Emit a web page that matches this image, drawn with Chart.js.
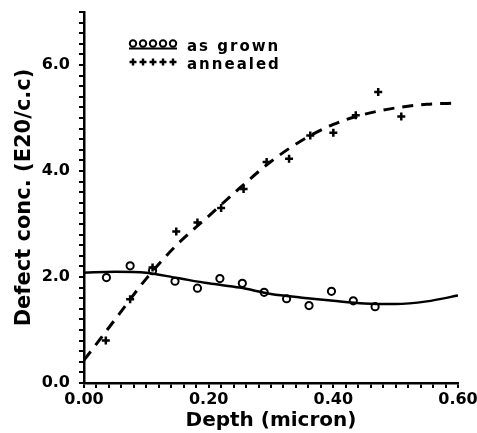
<!DOCTYPE html>
<html><head><meta charset="utf-8">
<script src="https://cdn.jsdelivr.net/npm/chart.js@4.4.1/dist/chart.umd.min.js"></script>
<style>html,body{margin:0;padding:0;background:#fff}canvas{display:block}</style>
</head><body>
<canvas id="c" width="477" height="433"></canvas>
<script>
// ---- data ----
const grownX = [0.036, 0.074, 0.110, 0.146, 0.182, 0.218, 0.254, 0.289, 0.325, 0.361, 0.397, 0.432, 0.467];
const grownY = [1.99, 2.21, 2.12, 1.92, 1.79, 1.97, 1.88, 1.71, 1.59, 1.46, 1.73, 1.55, 1.44];
const annealX = [0.035, 0.074, 0.110, 0.148, 0.182, 0.220, 0.256, 0.293, 0.329, 0.363, 0.400, 0.436, 0.472, 0.509];
const annealY = [0.80, 1.58, 2.18, 2.86, 3.03, 3.30, 3.66, 4.17, 4.23, 4.67, 4.72, 5.05, 5.49, 5.03];
const fitX = [0, 0.05, 0.10, 0.15, 0.20, 0.25, 0.30, 0.35, 0.40, 0.45, 0.50, 0.55, 0.60];
const grownFitY = [2.08, 2.10, 2.08, 1.98, 1.88, 1.80, 1.68, 1.61, 1.55, 1.50, 1.49, 1.54, 1.65];
const annealFitY = [0.43, 1.20, 1.97, 2.62, 3.15, 3.68, 4.18, 4.58, 4.88, 5.07, 5.19, 5.26, 5.28];
const seriesLabels = ['as grown', 'annealed'];
const xTitle = 'Depth (micron)';
const yTitle = 'Defect conc. (E20/c.c)';

const pts = (xs, ys) => xs.map((x, i) => ({x: x, y: ys[i]}));

Chart.defaults.font.family = '"DejaVu Sans", sans-serif';
Chart.defaults.font.weight = 'bold';
Chart.defaults.color = '#000';

const legendPlugin = {
  id: 'inlineLegend',
  afterDraw(chart) {
    const ctx = chart.ctx;
    ctx.save();
    ctx.strokeStyle = '#000';
    ctx.fillStyle = '#000';
    ctx.lineWidth = 2;
    for (let i = 0; i < 5; i++) {
      ctx.beginPath();
      ctx.arc(133 + i * 10, 43.5, 3.2, 0, Math.PI * 2);
      ctx.stroke();
    }
    ctx.lineWidth = 2;
    ctx.beginPath();
    ctx.moveTo(129, 48.5); ctx.lineTo(177, 48.5);
    ctx.stroke();
    ctx.lineWidth = 2.4;
    for (let i = 0; i < 5; i++) {
      const cx = 133 + i * 10;
      ctx.beginPath();
      ctx.moveTo(cx - 3.5, 62); ctx.lineTo(cx + 3.5, 62);
      ctx.moveTo(cx, 58.5); ctx.lineTo(cx, 65.5);
      ctx.stroke();
    }
    ctx.font = 'bold 15px "DejaVu Sans"';
    try { ctx.letterSpacing = '2px'; } catch (e) {}
    ctx.textAlign = 'left';
    ctx.textBaseline = 'alphabetic';
    ctx.fillText(chart.data.datasets[2].label, 187, 51);
    ctx.fillText(chart.data.datasets[3].label, 187, 69);
    ctx.restore();
  }
};

new Chart(document.getElementById('c'), {
  type: 'scatter',
  data: {
    datasets: [
      {
        label: 'as grown fit',
        data: pts(fitX, grownFitY),
        showLine: true,
        borderColor: '#000',
        borderWidth: 2.5,
        pointRadius: 0,
        cubicInterpolationMode: 'monotone',
        fill: false
      },
      {
        label: 'annealed fit',
        data: pts(fitX, annealFitY),
        showLine: true,
        borderColor: '#000',
        borderWidth: 3,
        borderDash: [11, 8],
        pointRadius: 0,
        cubicInterpolationMode: 'monotone',
        fill: false
      },
      {
        label: seriesLabels[0],
        data: pts(grownX, grownY),
        pointStyle: 'circle',
        pointRadius: 3.6,
        pointBorderWidth: 2,
        pointBorderColor: '#000',
        pointBackgroundColor: 'rgba(0,0,0,0)'
      },
      {
        label: seriesLabels[1],
        data: pts(annealX, annealY),
        pointStyle: 'cross',
        pointRadius: 4,
        pointBorderWidth: 2.5,
        pointBorderColor: '#000'
      }
    ]
  },
  options: {
    responsive: false,
    animation: false,
    devicePixelRatio: 1,
    layout: { padding: { left: 0, top: 12, right: 19, bottom: 0 } },
    plugins: { legend: { display: false }, tooltip: { enabled: false } },
    scales: {
      x: {
        type: 'linear',
        min: 0, max: 0.6,
        grid: { drawOnChartArea: false, drawTicks: true, tickLength: 5, color: '#000', lineWidth: 2 },
        border: { display: true, color: '#000', width: 2.5 },
        ticks: {
          stepSize: 0.02,
          autoSkip: false,
          maxRotation: 0,
          padding: 2,
          font: { size: 16, weight: 'bold' },
          callback: (v) => { const r = Math.round(v * 100); return r % 20 === 0 ? (r / 100).toFixed(2) : ''; }
        },
        title: { display: true, text: xTitle, font: { size: 20, weight: 'bold', lineHeight: 1 }, padding: { top: 0, bottom: 2 } },
        afterFit: (s) => { s.height = 50; s.paddingLeft = 0; s.paddingRight = 0; }
      },
      y: {
        type: 'linear',
        min: 0, max: 7,
        grid: { drawOnChartArea: false, drawTicks: true, tickLength: 5, color: '#000', lineWidth: 2 },
        border: { display: true, color: '#000', width: 2.5 },
        ticks: {
          stepSize: 0.2,
          autoSkip: false,
          padding: 9,
          font: { size: 16, weight: 'bold' },
          callback: (v) => { const r = Math.round(v * 10); return r % 20 === 0 ? (r / 10).toFixed(1) : ''; }
        },
        title: { display: true, text: yTitle, font: { size: 21, weight: 'bold', lineHeight: 1 }, padding: { top: 14, bottom: 0 } },
        afterFit: (s) => { s.width = 84; s.paddingTop = 0; s.paddingBottom = 0; }
      }
    }
  },
  plugins: [legendPlugin]
});
</script>
</body></html>
